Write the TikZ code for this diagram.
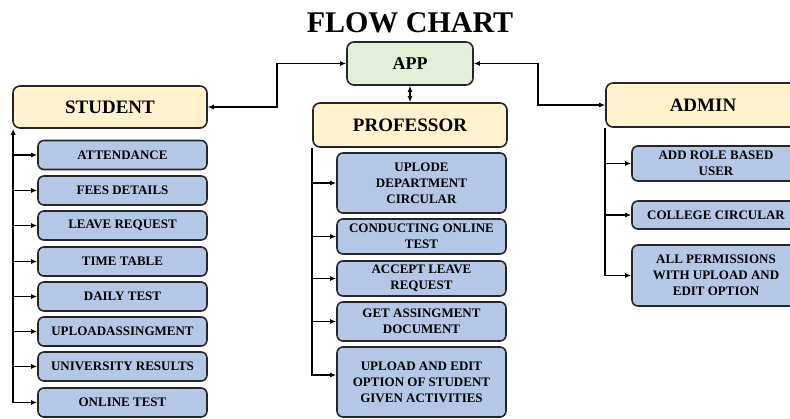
\documentclass[tikz,border=0pt]{standalone}
\usepackage{fontspec}
\setmainfont{Liberation Serif}
\usetikzlibrary{arrows.meta}

\begin{document}
\begin{tikzpicture}[x=1pt,y=-1pt,
  box/.style={draw=black!85,line width=1.6pt,rounded corners=6pt,inner sep=0pt,align=center,
    font=\fontsize{13}{16}\selectfont\bfseries},
  head/.style={box,fill=headYellow,minimum width=194pt,rounded corners=7pt,
    font=\fontsize{19}{22}\selectfont\bfseries},
  leaf/.style={box,fill=leafBlue,minimum width=169pt},
  link/.style={line width=1.6pt,-{Latex[length=6pt,width=5pt]}},
  twoway/.style={line width=1.6pt,{Latex[length=6pt,width=5pt]}-{Latex[length=6pt,width=5pt]}}]
\definecolor{headYellow}{HTML}{FFF2CC}
\definecolor{leafBlue}{HTML}{B4C7E7}
\definecolor{appGreen}{HTML}{E2F0D9}
\useasboundingbox (0,0) rectangle (790,418);
\clip (0,0) rectangle (790,418);
\node[font=\fontsize{30}{34}\selectfont\bfseries] (title) at (410,23) {FLOW CHART};
\node[box,fill=appGreen,minimum width=126pt,minimum height=43pt,rounded corners=7pt,
  font=\fontsize{18}{22}\selectfont\bfseries] (app) at (410,63.5) {APP};
\node[head,minimum height=42pt] (student) at (110,107) {STUDENT};
\node[head,minimum height=44pt] (prof) at (410,125) {PROFESSOR};
\node[head,minimum height=44pt] (admin) at (703,105) {ADMIN};
% app to the three users
\draw[twoway] (student.east) -- ++(69,0) |- (app.west);
\draw[twoway] (admin.west) -- ++(-67,0) |- (app.east);
\draw[twoway] (app.south) -- (prof.north);
% student side
\foreach \y/\nm/\lab in {155/att/ATTENDANCE,190.5/fees/FEES DETAILS,225.5/leave/LEAVE REQUEST,
    261.5/time/TIME TABLE,296.5/daily/DAILY TEST,331.5/upl/UPLOADASSINGMENT,
    366.5/uni/UNIVERSITY RESULTS,402.5/onl/ONLINE TEST}
  \node[leaf,minimum height=29pt] (\nm) at (122.5,\y) {\lab};
\coordinate (sspine) at ([xshift=1pt]student.south west);
\draw[twoway] (sspine) |- (onl.west);
\foreach \nm in {att,fees,leave,time,daily,upl,uni}
  \draw[link] (sspine |- \nm.west) -- (\nm.west);
% professor side
\node[leaf,minimum height=60pt] (circ) at (421.5,183) {UPLODE\\DEPARTMENT\\CIRCULAR};
\node[leaf,minimum height=35pt] (test) at (421.5,236.5) {CONDUCTING ONLINE\\TEST};
\node[leaf,minimum height=35pt] (accept) at (421.5,278.5) {ACCEPT LEAVE\\REQUEST};
\node[leaf,minimum height=39pt] (getdoc) at (421.5,321.5) {GET ASSINGMENT\\DOCUMENT};
\node[leaf,minimum height=70pt] (activ) at (421.5,382) {UPLOAD AND EDIT\\OPTION OF STUDENT\\GIVEN ACTIVITIES};
\coordinate (pspine) at (prof.south west);
\draw[link] (pspine) |- ([yshift=7pt]activ.west);
\foreach \nm in {circ,test,accept,getdoc}
  \draw[link] (pspine |- \nm.west) -- (\nm.west);
% admin side
\node[leaf,minimum width=168pt,minimum height=35pt] (role) at (716,163.5) {ADD ROLE BASED\\USER};
\node[leaf,minimum width=168pt,minimum height=28pt] (colcirc) at (716,215) {COLLEGE CIRCULAR};
\node[leaf,minimum width=168pt,minimum height=61pt] (perm) at (716,275.5) {ALL PERMISSIONS\\WITH UPLOAD AND\\EDIT OPTION};
\coordinate (aspine) at (admin.south west);
\draw[link] (aspine) |- (perm.west);
\foreach \nm in {role,colcirc}
  \draw[link] (aspine |- \nm.west) -- (\nm.west);
\end{tikzpicture}
\end{document}
